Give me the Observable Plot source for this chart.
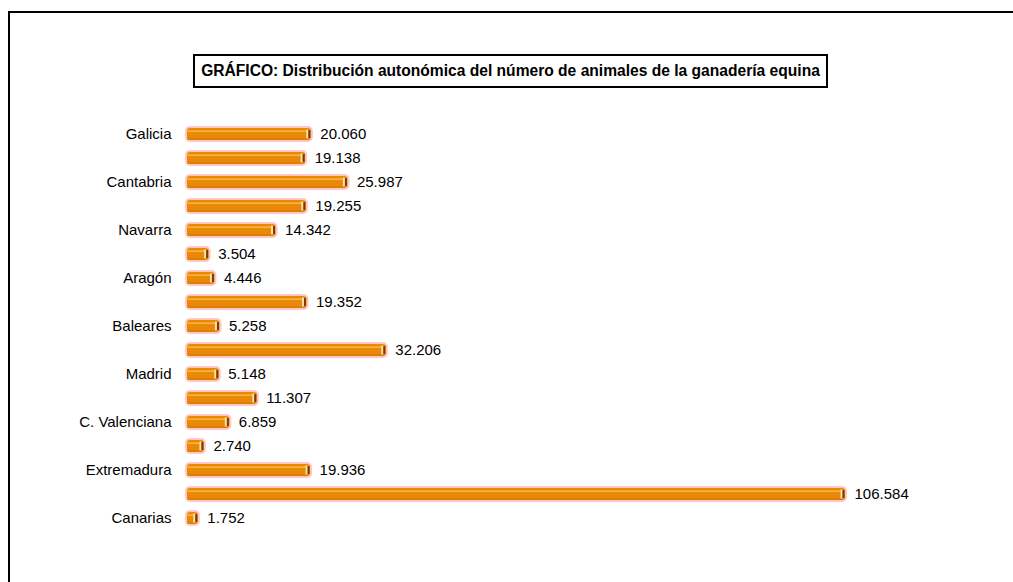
<!DOCTYPE html>
<html>
<head>
<meta charset="utf-8">
<script src="https://cdn.jsdelivr.net/npm/d3@7"></script>
<script src="https://cdn.jsdelivr.net/npm/@observablehq/plot@0.6"></script>
<style>
  html, body { margin: 0; padding: 0; background: #fff; overflow: hidden; width: 1013px; height: 582px; }
  #frame { position: absolute; left: 8px; top: 11px; width: 1100px; height: 700px; border: 2.5px solid #000; box-sizing: border-box; }
  #title { position: absolute; left: 193px; top: 54px; width: 635px; height: 34px; border: 2px solid #000; box-sizing: border-box;
           font: bold 15.6px "Liberation Sans", Arial, sans-serif; color: #000; display: flex; align-items: center; justify-content: center; background: #fff; white-space: nowrap; }
  #chart { position: absolute; left: 0; top: 0; }
</style>
</head>
<body>
<div id="frame"></div>
<div id="title">GRÁFICO: Distribución autonómica del número de animales de la ganadería equina</div>
<div id="chart"></div>
<script>
const regions = ["Galicia", "P. de Asturias", "Cantabria", "País Vasco", "Navarra", "La Rioja", "Aragón", "Cataluña",
  "Baleares", "Castilla y León", "Madrid", "Castilla-La Mancha", "C. Valenciana", "R. de Murcia", "Extremadura", "Andalucía", "Canarias"];
const animals = [20060, 19138, 25987, 19255, 14342, 3504, 4446, 19352, 5258, 32206, 5148, 11307, 6859, 2740, 19936, 106584, 1752];
const shownLabels = ["Galicia", "Cantabria", "Navarra", "Aragón", "Baleares", "Madrid", "C. Valenciana", "Extremadura", "Canarias"];

const data = regions.map((r, i) => ({region: r, value: animals[i]}));
const es = d3.formatLocale({decimal: ",", thousands: ".", grouping: [3], currency: ["", "€"]});
const fmt = es.format(",d");

const chart = Plot.plot({
  width: 1013,
  height: 582,
  marginLeft: 0, marginRight: 0, marginTop: 0, marginBottom: 0,
  style: {fontFamily: "'Liberation Sans', Arial, sans-serif", fontSize: "15px", background: "transparent", overflow: "visible"},
  x: {domain: [0, 106584], range: [187, 845], axis: null},
  y: {domain: regions, range: [113, 539], padding: 0.48, axis: null, label: null},
  marks: [
    Plot.axisY({ticks: shownLabels, tickSize: 0, tickPadding: 0, dx: -16, anchor: "left", fontSize: 15, fill: "#000", textAnchor: "end", x: 0, label: null}),
    Plot.barX(data, {y: "region", x: "value", fill: "#e8890a", stroke: "#ffc6c6", strokeWidth: 4, rx: 3}),
    Plot.barX(data, {y: "region", x: "value", fill: "#e8890a", rx: 3}),
    Plot.barX(data, {y: "region", x: "value", fill: "#f8a522", insetTop: 2, insetBottom: 8, insetRight: 2, rx: 1}),
    Plot.barX(data, {y: "region", x: "value", fill: "#fdc36a", insetTop: 3.5, insetBottom: 8, insetRight: 2}),
    Plot.barX(data, {y: "region", x: "value", fill: "#d27300", insetTop: 10.5, insetBottom: 0.5, insetRight: 2}),
    Plot.tickX(data, {y: "region", x: "value", stroke: "#fbe3b0", strokeWidth: 2, dx: -4, insetTop: 1.5, insetBottom: 1.5}),
    Plot.tickX(data, {y: "region", x: "value", stroke: "#7a3c00", strokeWidth: 2, dx: -2, insetTop: 2, insetBottom: 2}),
    Plot.text(data, {y: "region", x: "value", text: d => fmt(d.value), dx: 9, textAnchor: "start", fill: "#000", fontSize: 15})
  ]
});
document.getElementById("chart").appendChild(chart);
</script>
</body>
</html>
